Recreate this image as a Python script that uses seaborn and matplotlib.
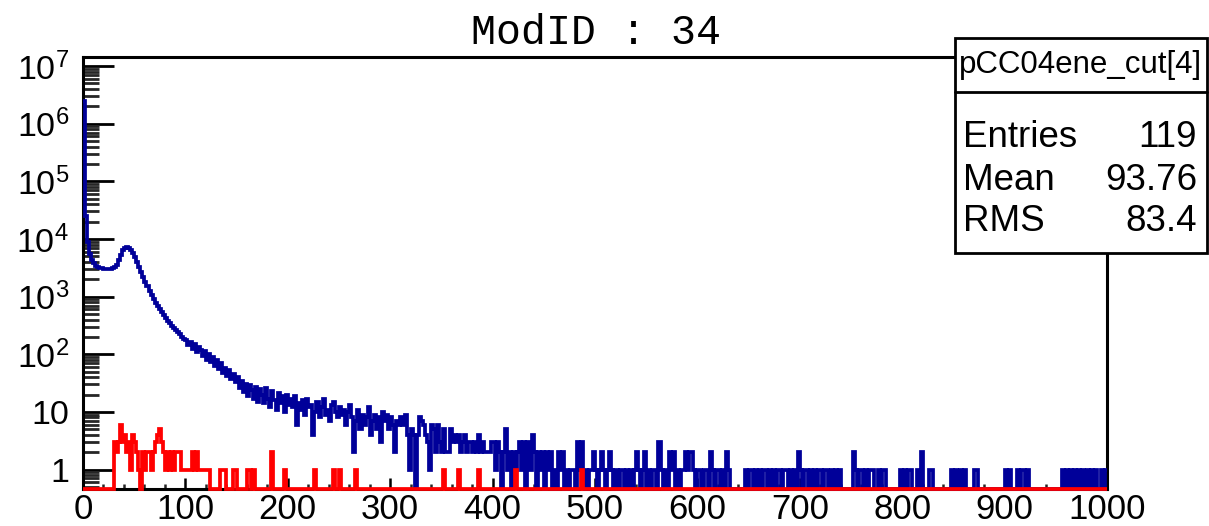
import numpy as np
import pandas as pd
import matplotlib
matplotlib.use("Agg")
import matplotlib.pyplot as plt
import seaborn as sns
from matplotlib.patches import Rectangle
from matplotlib.lines import Line2D

sns.set_theme(style="white")
plt.rcParams['font.family'] = ['Liberation Sans', 'DejaVu Sans']
plt.rcParams['mathtext.fontset'] = 'custom'
plt.rcParams['mathtext.rm'] = 'Liberation Sans'
plt.rcParams['mathtext.it'] = 'Liberation Sans'

# ---------------- data ----------------
title = "ModID : 34"
hist_name = "pCC04ene_cut[4]"
stat_names = ["Entries", "Mean", "RMS"]
stat_values = ["119", "93.76", "83.4"]

x_min, x_max, n_bins = 0, 1000, 500
x_ticks = [0, 100, 200, 300, 400, 500, 600, 700, 800, 900, 1000]
y_ticks = [1, 10, 1e2, 1e3, 1e4, 1e5, 1e6, 1e7]
y_tick_labels = ["1", "10", "$10^{2}$", "$10^{3}$", "$10^{4}$", "$10^{5}$", "$10^{6}$", "$10^{7}$"]

# blue histogram, counts per 2-unit bin
blue_0_100 = [2.5e6, 2.5e4, 9000, 5500, 4300, 3800, 3400, 3250, 3150, 3100,
              3050, 3020, 3000, 3000, 3100, 3250, 3600, 4300, 5300, 6300,
              6900, 7200, 7100, 6500, 5600, 4800, 4000, 3300, 2700, 2200,
              1800, 1500, 1250, 1050, 900, 780, 680, 600, 530, 470,
              420, 380, 345, 310, 285, 260, 240, 220, 200, 185]
blue_100_200 = [175, 142, 166, 124, 148, 110, 134, 118, 92, 112,
                80, 101, 74, 90, 62, 78, 55, 70, 48, 58,
                42, 53, 37, 45, 33, 40, 26, 35, 22, 31,
                19, 29, 24, 17, 27, 15, 25, 20, 14, 26,
                17, 12, 23, 16, 11, 21, 14, 19, 10, 20]
blue_200_300 = [13, 17, 12, 19, 6, 14, 11, 16, 9, 17,
                12, 13, 4, 10, 15, 8, 12, 17, 9, 11,
                7, 13, 15, 10, 8, 12, 9, 11, 6, 10,
                13, 8, 2, 7, 11, 5, 9, 6, 8, 12,
                4, 7, 9, 5, 8, 3, 10, 7, 9, 5]
blue_300_400 = [8, 6, 2, 7, 6, 8, 6, 9, 4, 1,
                5, 4, 0, 4, 8, 7, 6, 4, 3, 1,
                6, 5, 2, 6, 3, 2, 5, 2, 2, 5,
                3, 4, 3, 4, 2, 3, 4, 2, 3, 3,
                2, 3, 2, 4, 2, 3, 2, 2, 2, 3]
blue_400_500 = [3, 1, 3, 2, 0, 2, 5, 1, 2, 0,
                2, 1, 2, 3, 1, 3, 0, 3, 1, 4,
                2, 0, 2, 1, 2, 0, 2, 1, 2, 0,
                1, 0, 2, 1, 2, 0, 1, 0, 1, 1,
                0, 3, 1, 3, 0, 1, 0, 1, 1, 2]
blue_500_600 = [1, 0, 1, 2, 1, 0, 1, 2, 1, 0,
                1, 0, 1, 1, 0, 1, 0, 1, 0, 1,
                2, 1, 0, 1, 2, 0, 1, 0, 1, 1,
                0, 3, 1, 0, 1, 0, 2, 1, 2, 0,
                1, 0, 1, 1, 2, 1, 2, 2, 1, 0]
blue_600_700 = [1, 1, 0, 1, 1, 0, 2, 1, 0, 1,
                1, 0, 1, 0, 2, 1, 0, 0, 0, 0,
                0, 0, 0, 1, 0, 1, 1, 0, 1, 0,
                1, 0, 1, 1, 0, 1, 0, 1, 0, 1,
                1, 0, 1, 1, 0, 1, 0, 1, 0, 2]
blue_700_800 = [1, 0, 1, 1, 0, 1, 0, 1, 0, 1,
                1, 0, 1, 1, 0, 1, 0, 1, 0, 1,
                0, 0, 0, 0, 0, 0, 2, 1, 0, 1,
                1, 0, 1, 0, 1, 1, 0, 0, 1, 0,
                1, 1, 0, 0, 0, 0, 0, 0, 0, 1]
blue_800_900 = [0, 1, 0, 1, 1, 0, 0, 1, 0, 2,
                0, 0, 0, 1, 1, 0, 0, 0, 0, 0,
                0, 0, 0, 0, 1, 0, 1, 0, 1, 0,
                1, 0, 0, 0, 0, 1, 1, 0, 0, 0,
                0, 0, 0, 0, 0, 0, 0, 0, 0, 0]
blue_900_1000 = [1, 0, 1, 0, 0, 0, 1, 0, 1, 1,
                 0, 1, 0, 0, 0, 0, 0, 0, 0, 0,
                 0, 0, 0, 0, 0, 0, 0, 0, 1, 0,
                 1, 0, 1, 0, 1, 0, 1, 0, 1, 0,
                 1, 0, 1, 0, 1, 0, 0, 1, 0, 1]

# red histogram: bin lower edges and counts of the non-empty bins
red_edges = [30, 32, 34, 36, 38, 40, 42, 44, 46, 48, 50, 52, 54, 58, 60, 62, 64, 66, 68,
             70, 72, 74, 76, 78, 80, 82, 84, 86, 88, 90, 92, 94, 96, 98, 100, 102, 104,
             106, 108, 110, 112, 114, 116, 118, 120, 122, 134, 136, 138, 146, 148, 160,
             162, 166, 184, 196, 226, 244, 250, 266, 352, 366, 386, 422, 486]
red_counts = [3, 2, 3, 6, 3, 4, 2, 3, 1, 4, 3, 2, 1, 2, 1, 2, 2, 1, 2,
              3, 4, 5, 3, 2, 1, 2, 1, 2, 1, 2, 2, 2, 1, 1, 1, 1, 1,
              2, 1, 2, 1, 1, 1, 1, 1, 1, 1, 1, 1, 1, 1, 1,
              1, 1, 2, 1, 1, 1, 1, 1, 1, 1, 1, 1, 1]

# ---------------- build tables ----------------
edges = np.linspace(x_min, x_max, n_bins + 1)
blue = np.array(blue_0_100 + blue_100_200 + blue_200_300 + blue_300_400 + blue_400_500 +
                blue_500_600 + blue_600_700 + blue_700_800 + blue_800_900 + blue_900_1000,
                dtype=float)
red = np.zeros(n_bins)
for e, c in zip(red_edges, red_counts):
    red[int(round((e - x_min) / 2))] = c

y_lo, y_hi = 0.46, 1.43e7

def step_frame(counts):
    y = np.maximum(counts, y_lo)
    y = np.append(y, y[-1])
    return pd.DataFrame({"x": edges, "y": y})

df_blue = step_frame(blue)
df_red = step_frame(red)

# ---------------- figure ----------------
W, H = 1209, 526
fig = plt.figure(figsize=(W / 100, H / 100), dpi=100)
fig.patch.set_facecolor("white")
ax = fig.add_axes([83 / W, 37 / H, (1107 - 83) / W, (489 - 57) / H])
ax.set_facecolor("white")

line_kw = dict(drawstyle="steps-post", estimator=None, sort=False, linewidth=2.7,
               clip_on=False, solid_joinstyle="miter", solid_capstyle="butt")
sns.lineplot(data=df_blue, x="x", y="y", ax=ax, color="#000099", zorder=3, **line_kw)
sns.lineplot(data=df_red, x="x", y="y", ax=ax, color="#ff0000", zorder=4, **line_kw)

ax.set_yscale("log")
ax.set_xlim(x_min, x_max)
ax.set_ylim(y_lo, y_hi)
ax.set_xlabel("")
ax.set_ylabel("")

ax.set_xticks(x_ticks)
ax.set_xticklabels([str(t) for t in x_ticks])
ax.set_xticks(np.arange(0, 1001, 20), minor=True)
ax.set_yticks(y_ticks)
ax.set_yticklabels(y_tick_labels)
ax.yaxis.set_minor_locator(matplotlib.ticker.LogLocator(base=10, subs=np.arange(2, 10), numticks=20))
ax.yaxis.set_minor_formatter(matplotlib.ticker.NullFormatter())

ax.tick_params(axis="x", which="major", direction="in", length=8, width=1.8, bottom=True,
               top=False, labelsize=25, pad=3, colors="black")
ax.tick_params(axis="x", which="minor", direction="in", length=3.5, width=1.8, bottom=True, top=False)
ax.tick_params(axis="y", which="major", direction="in", length=22, width=2.0, left=True,
               right=False, labelsize=24.5, pad=10, colors="black")
ax.tick_params(axis="y", which="minor", direction="in", length=11.5, width=2.0, left=True, right=False)

for s in ax.spines.values():
    s.set_visible(True)
    s.set_color("black")
    s.set_linewidth(2.2)
    s.set_zorder(2)

# title
fig.text(596 / W, 1 - 33 / H, title, ha="center", va="center",
         family=["Liberation Mono", "DejaVu Sans Mono"], fontsize=30, color="black")

# stats box
bx0, bx1, by0, by1, bsep = 955, 1207, 38, 253, 92
def fx(px): return px / W
def fy(py): return 1 - py / H
fig.add_artist(Rectangle((fx(bx0), fy(by1)), fx(bx1) - fx(bx0), fy(by0) - fy(by1),
                         transform=fig.transFigure, facecolor="white", edgecolor="black",
                         linewidth=2.0, zorder=10))
fig.add_artist(Line2D([fx(bx0), fx(bx1)], [fy(bsep), fy(bsep)], transform=fig.transFigure,
                      color="black", linewidth=2.0, zorder=11))
fig.text(fx((bx0 + bx1) / 2), fy(65), hist_name, ha="center", va="center", fontsize=22.5,
         color="black", zorder=12)
for i, (n, v) in enumerate(zip(stat_names, stat_values)):
    yc = [137, 180, 222][i]
    fig.text(fx(963), fy(yc), n, ha="left", va="center", fontsize=26.5, color="black", zorder=12)
    fig.text(fx(1197), fy(yc), v, ha="right", va="center", fontsize=26.5, color="black", zorder=12)

fig.savefig("out.png", dpi=100, facecolor="white")
